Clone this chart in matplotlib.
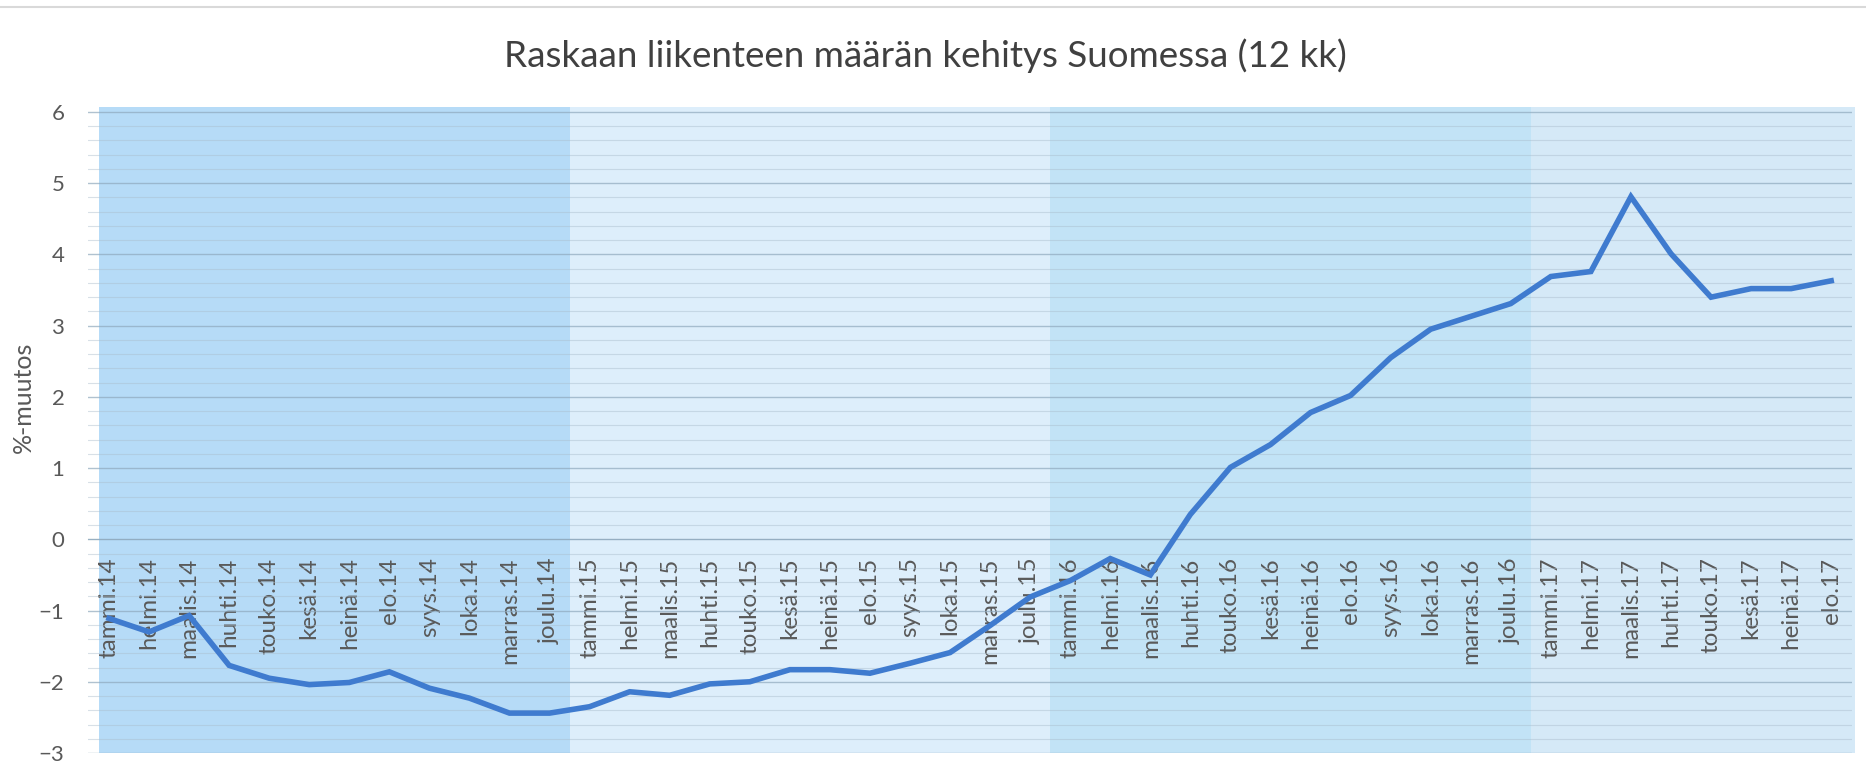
import numpy as np
import matplotlib
matplotlib.use("Agg")
import matplotlib.pyplot as plt
from matplotlib.ticker import MultipleLocator
from matplotlib.lines import Line2D

plt.rcParams['font.family'] = ['Lato', 'DejaVu Sans']

months = ['tammi', 'helmi', 'maalis', 'huhti', 'touko', 'kesä',
          'heinä', 'elo', 'syys', 'loka', 'marras', 'joulu']
years = ['14', '15', '16', '17']
labels = [m + '.' + y for y in years for m in months][:44]

change = [-1.11, -1.30, -1.07, -1.77, -1.95, -2.04, -2.01, -1.86, -2.09, -2.23, -2.44, -2.44,
          -2.35, -2.14, -2.19, -2.03, -2.00, -1.83, -1.83, -1.88, -1.74, -1.59, -1.21, -0.81,
          -0.58, -0.27, -0.50, 0.35, 1.01, 1.33, 1.78, 2.02, 2.55, 2.95, 3.13, 3.31,
          3.69, 3.76, 4.81, 4.01, 3.40, 3.52, 3.52, 3.63]

# year bands (start, end, colour)
bands = [(-0.25, 11.5, '#b6dbf7'), (11.5, 23.5, '#ddeefb'),
         (23.5, 35.5, '#c2e3f6'), (35.5, 43.6, '#d5e9f7')]

fig = plt.figure(figsize=(18.66, 7.79), dpi=100)
ax = fig.add_axes([0.04716, 0.03338, 0.94534, 0.82926])

for x0, x1, c in bands:
    ax.axvspan(x0, x1, color=c, lw=0, zorder=0, clip_on=False)

x = np.arange(len(change))
ax.plot(x, change, color='#3f7bcf', lw=4, solid_joinstyle='miter', zorder=3)

ax.set_xlim(-0.524, 43.52)
ax.set_ylim(-3, 6.07)
ax.yaxis.set_major_locator(MultipleLocator(1))
ax.yaxis.set_minor_locator(MultipleLocator(0.2))
ax.grid(which='major', axis='y', color='#8fa9bd', lw=1.0, alpha=0.7, zorder=1)
ax.grid(which='minor', axis='y', color='#a9bccb', lw=0.8, alpha=0.45, zorder=1)
ax.set_axisbelow(True)

for s in ['top', 'right', 'left']:
    ax.spines[s].set_visible(False)
ax.spines['bottom'].set_position(('data', 0))
ax.spines['bottom'].set_color('#8fa9bd')
ax.spines['bottom'].set_alpha(0.7)

ax.set_xticks(x)
ax.set_xticklabels(labels, rotation=90, va='top', ha='center', fontsize=17.5, color='#595959')
ax.tick_params(axis='x', length=0, pad=13)
ax.tick_params(axis='y', which='both', length=0, pad=17, labelsize=16, labelcolor='#595959')

fig.text(0.0123, 0.49, '%-muutos', rotation=90, ha='center', va='center',
         fontsize=18, color='#595959')
fig.text(0.496, 0.928, 'Raskaan liikenteen määrän kehitys Suomessa (12 kk)',
         ha='center', va='center', fontsize=26.5, color='#404040')

fig.add_artist(Line2D([0, 1], [0.991, 0.991], color='#d9d9d9', lw=1.5))

fig.savefig('out.png', dpi=100)
